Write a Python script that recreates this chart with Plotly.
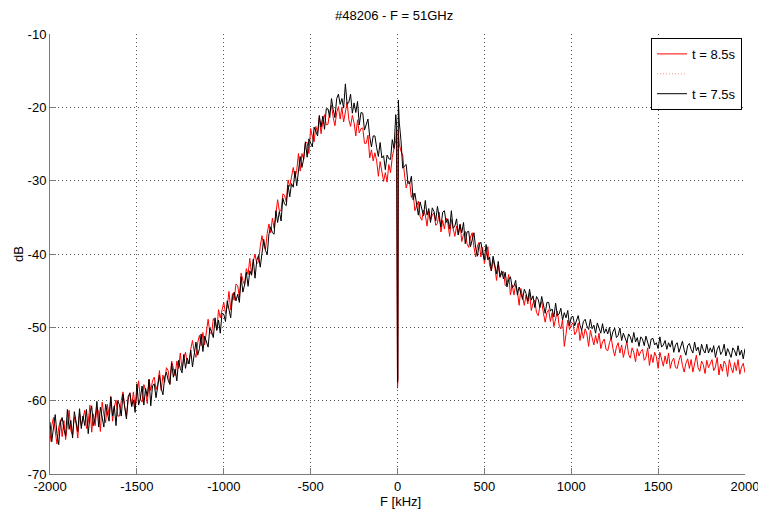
import plotly.graph_objects as go

# Frequency grid (kHz) – 10 kHz spacing, plus extra points inside the DC notch
F_GRID = list(range(-2000, 2001, 10))
NOTCH_F = [-5, -2, 2, 5]

# t = 8.5 s (red) spectrum in dB
RED_DB = [
    # -2000 ... -10
    -65.6, -63.4, -62.3, -64.5, -65.9, -63.7, -62.6, -64.9, -62.7, -65.3,
    -63.2, -61.3, -64.1, -64.7, -62.2, -63.1, -65.1, -61.7, -63.4, -62.2,
    -61.3, -63.8, -62.9, -60.6, -64.3, -61.8, -63.4, -60.9, -61.6, -64.2,
    -60.2, -61.9, -63.0, -60.5, -62.0, -59.4, -62.8, -60.9, -59.9, -62.1,
    -62.1, -60.0, -58.8, -60.8, -62.1, -59.9, -58.9, -60.8, -58.8, -61.0,
    -59.1, -57.3, -59.8, -60.2, -57.8, -58.6, -60.4, -57.1, -58.6, -57.3,
    -56.8, -58.5, -57.8, -55.9, -58.6, -56.5, -57.5, -55.5, -55.9, -57.7,
    -54.6, -55.8, -56.6, -54.6, -55.6, -53.5, -55.8, -54.2, -53.4, -54.9,
    -54.9, -53.0, -51.8, -53.3, -54.1, -52.1, -51.1, -52.5, -50.7, -52.4,
    -50.5, -48.9, -50.7, -50.9, -48.8, -49.2, -50.4, -47.6, -48.7, -47.5,
    -46.6, -48.1, -47.2, -45.1, -47.6, -45.4, -46.3, -44.1, -44.3, -45.9,
    -42.6, -43.6, -44.2, -42.0, -42.8, -40.6, -42.8, -41.0, -40.0, -41.3,
    -41.1, -39.0, -37.5, -38.8, -39.4, -37.2, -35.9, -37.1, -35.1, -36.5,
    -34.4, -32.6, -34.1, -34.1, -31.8, -32.0, -32.9, -29.9, -30.8, -29.3,
    -28.2, -29.6, -28.6, -26.3, -28.7, -26.3, -27.1, -24.8, -24.8, -26.3,
    -22.9, -24.0, -24.7, -22.6, -23.5, -21.3, -23.6, -21.9, -21.0, -22.4,
    -22.3, -20.6, -19.7, -21.4, -22.5, -20.7, -19.9, -21.6, -20.0, -22.0,
    -20.3, -19.3, -21.7, -22.6, -21.1, -22.1, -23.9, -21.7, -23.5, -22.9,
    -22.8, -24.9, -24.9, -23.8, -26.9, -25.8, -27.3, -26.2, -27.3, -29.4,
    -27.4, -28.9, -30.1, -28.9, -30.2, -27.8, -28.9, -26.8, -25.4, -24.5,
    # 0
    -58.3,
    # 10 ... 2000
    -25.0, -26.0, -26.5, -29.1, -31.0, -30.1, -30.2, -32.3, -31.7, -34.1,
    -33.4, -32.8, -34.9, -35.4, -34.0, -34.7, -36.2, -34.1, -35.4, -34.7,
    -34.4, -36.1, -35.8, -34.3, -37.0, -35.4, -36.6, -35.1, -35.8, -37.6,
    -35.3, -36.6, -37.6, -36.2, -37.4, -35.9, -38.3, -37.3, -36.9, -38.6,
    -39.1, -37.7, -37.1, -39.1, -40.4, -38.9, -38.4, -40.4, -39.1, -41.3,
    -40.0, -39.0, -41.5, -42.3, -40.8, -41.8, -43.6, -41.5, -43.2, -42.6,
    -42.4, -44.3, -44.1, -42.8, -45.6, -44.2, -45.6, -44.2, -45.1, -47.0,
    -44.7, -46.0, -47.0, -45.6, -46.8, -45.3, -47.7, -46.7, -46.3, -48.0,
    -48.4, -47.1, -46.5, -48.1, -49.3, -48.0, -47.6, -49.2, -48.0, -49.9,
    -48.7, -47.8, -49.7, -50.2, -48.9, -52.6, -50.9, -49.0, -50.3, -49.7,
    -49.4, -51.0, -50.6, -49.4, -51.8, -50.4, -51.5, -50.2, -50.9, -52.6,
    -50.4, -51.6, -52.4, -51.1, -52.2, -50.8, -52.9, -52.0, -51.6, -53.0,
    -53.2, -52.1, -51.4, -52.9, -53.9, -52.7, -52.1, -53.5, -52.4, -54.1,
    -52.9, -51.9, -53.7, -54.2, -52.8, -53.4, -54.7, -52.9, -53.9, -53.3,
    -53.0, -54.5, -54.1, -52.8, -55.2, -53.7, -54.8, -53.4, -54.0, -55.6,
    -53.4, -54.5, -55.3, -53.9, -55.0, -53.5, -55.6, -54.6, -54.2, -55.5,
    -55.6, -54.5, -53.8, -55.2, -56.1, -54.9, -54.3, -55.6, -54.4, -56.1,
    -54.9, -53.8, -55.5, -56.0, -54.6, -55.1, -56.3, -54.5, -55.5, -54.8,
    -54.4, -55.9, -55.4, -54.1, -56.5, -55.0, -56.0, -54.6, -55.1, -56.7,
    -54.4, -55.5, -56.2, -54.8, -55.9, -54.4, -56.4, -55.4, -54.9, -56.2,
]
RED_NOTCH_DB = [-23.0, -57.8, -57.5, -23.2]

# t = 7.5 s (black) spectrum in dB
BLACK_DB = [
    # -2000 ... -10
    -62.9, -65.6, -63.7, -61.9, -64.5, -66.0, -63.0, -62.3, -63.9, -64.8,
    -61.2, -63.9, -62.7, -65.1, -61.5, -63.1, -64.2, -61.1, -63.8, -62.1,
    -63.4, -61.2, -64.5, -62.0, -60.7, -63.4, -62.4, -60.1, -63.6, -60.9,
    -62.4, -63.6, -60.5, -61.5, -62.8, -59.5, -62.1, -60.7, -63.4, -60.0,
    -60.6, -62.1, -59.1, -60.9, -62.5, -59.4, -59.0, -60.8, -59.9, -61.6,
    -57.7, -60.6, -59.7, -58.0, -60.6, -58.3, -59.4, -57.1, -60.7, -58.0,
    -57.7, -59.6, -57.9, -56.5, -58.3, -59.2, -56.8, -56.1, -57.2, -57.8,
    -54.9, -56.8, -55.7, -57.3, -54.5, -55.6, -56.2, -53.7, -55.6, -54.2,
    -55.0, -53.1, -55.4, -53.3, -52.0, -53.8, -52.9, -50.9, -53.3, -51.2,
    -52.0, -52.7, -50.1, -50.6, -51.4, -48.7, -50.4, -49.0, -50.8, -48.1,
    -48.2, -49.2, -46.4, -47.8, -48.7, -45.9, -45.2, -46.4, -45.5, -46.6,
    -43.1, -45.2, -44.2, -42.5, -44.4, -42.3, -42.9, -40.7, -43.3, -40.9,
    -40.2, -41.8, -39.7, -38.0, -39.5, -40.1, -37.3, -36.3, -37.1, -37.3,
    -34.1, -35.7, -34.2, -35.5, -32.4, -33.2, -33.4, -30.6, -32.2, -30.4,
    -30.9, -28.7, -30.7, -28.3, -26.7, -28.2, -27.0, -24.7, -26.8, -24.3,
    -24.8, -25.4, -22.7, -23.2, -23.9, -21.1, -22.7, -21.2, -23.0, -20.2,
    -20.2, -21.4, -18.8, -20.3, -21.4, -18.8, -18.2, -19.6, -18.8, -20.1,
    -16.8, -19.6, -19.3, -18.2, -20.8, -19.4, -20.7, -19.2, -22.4, -20.7,
    -20.8, -23.1, -22.2, -21.6, -24.0, -25.4, -23.9, -23.9, -25.5, -26.7,
    -24.8, -26.9, -26.6, -28.5, -26.5, -27.0, -27.1, -24.4, -25.6, -21.0,
    # 0
    -57.5,
    # 10 ... 2000
    -22.0, -24.5, -28.3, -28.0, -27.8, -30.3, -30.4, -29.4, -32.6, -31.7,
    -33.2, -34.7, -32.9, -33.7, -34.8, -32.7, -34.7, -33.8, -35.7, -33.7,
    -34.2, -35.5, -33.5, -35.0, -36.3, -34.3, -34.1, -35.7, -35.2, -36.6,
    -34.1, -36.5, -36.2, -35.2, -37.4, -36.0, -37.1, -35.7, -38.6, -37.0,
    -36.9, -39.0, -37.9, -37.1, -39.2, -40.3, -38.7, -38.4, -39.8, -40.8,
    -38.7, -40.8, -40.4, -42.3, -40.3, -41.7, -42.7, -41.0, -43.1, -42.3,
    -43.4, -42.5, -44.5, -43.5, -43.1, -44.6, -44.4, -43.6, -45.6, -44.5,
    -45.3, -46.2, -44.8, -45.4, -46.4, -44.8, -46.3, -45.7, -47.3, -45.8,
    -46.2, -47.3, -45.8, -47.1, -48.1, -46.6, -46.6, -47.8, -47.5, -48.6,
    -46.7, -48.4, -48.2, -47.4, -49.0, -48.0, -48.7, -47.7, -49.8, -48.6,
    -48.5, -49.8, -49.0, -48.4, -49.7, -50.4, -49.2, -48.9, -49.8, -50.3,
    -48.9, -50.2, -49.7, -50.8, -49.4, -50.3, -50.8, -49.5, -50.8, -50.2,
    -50.9, -50.0, -51.6, -50.6, -50.1, -51.4, -51.1, -50.1, -51.8, -50.8,
    -51.4, -52.1, -50.9, -51.3, -52.1, -50.7, -52.0, -51.4, -52.6, -51.3,
    -51.6, -52.5, -51.2, -52.2, -52.9, -51.6, -51.5, -52.4, -52.1, -52.9,
    -51.3, -52.7, -52.4, -51.8, -53.0, -52.1, -52.7, -51.8, -53.4, -52.4,
    -52.1, -53.4, -52.6, -51.9, -53.1, -53.8, -52.5, -52.2, -53.0, -53.5,
    -52.0, -53.2, -52.7, -53.8, -52.3, -53.1, -53.5, -52.3, -53.5, -52.8,
    -53.4, -52.5, -54.1, -53.0, -52.5, -53.7, -53.3, -52.3, -53.9, -52.9,
    -53.5, -54.1, -52.8, -53.2, -53.9, -52.5, -53.8, -53.1, -54.3, -52.9,
]
BLACK_NOTCH_DB = [-22.5, -56.8, -57.0, -19.0]

X_TICKS = [-2000, -1500, -1000, -500, 0, 500, 1000, 1500, 2000]
X_TICK_TEXT = ["-2000", "-1500", "-1000", "-500", "0", "500", "1000", "1500", "2000"]
Y_TICKS = [-70, -60, -50, -40, -30, -20, -10]
Y_TICK_TEXT = ["-70", "-60", "-50", "-40", "-30", "-20", "-10"]

assert len(RED_DB) == len(F_GRID) and len(BLACK_DB) == len(F_GRID)


def merged(vals, notch_vals):
    pts = sorted(zip(F_GRID + NOTCH_F, vals + notch_vals))
    return [p[0] for p in pts], [p[1] for p in pts]


rx, ry = merged(RED_DB, RED_NOTCH_DB)
bx, by = merged(BLACK_DB, BLACK_NOTCH_DB)

FONT = "Liberation Sans, Arial, Helvetica, sans-serif"
TXT = dict(family=FONT, size=13, color="#000")

fig = go.Figure()
fig.add_trace(go.Scatter(x=rx, y=ry, mode="lines", name="t = 8.5s",
                         line=dict(color="#ff0000", width=1)))
fig.add_trace(go.Scatter(x=[None], y=[None], mode="lines", name=" ",
                         line=dict(color="#ff9090", width=1, dash="1px,2px")))
fig.add_trace(go.Scatter(x=bx, y=by, mode="lines", name="t = 7.5s",
                         line=dict(color="#000000", width=1)))

axis_common = dict(
    showline=True, linecolor="#7a7a7a", linewidth=1, mirror=False,
    showgrid=True, gridcolor="#555555", gridwidth=1, griddash="1px,3px",
    ticks="inside", ticklen=6, tickcolor="#7a7a7a", zeroline=False,
    tickfont=TXT, ticklabeloverflow="allow", automargin=False,
)

fig.update_layout(
    width=758, height=510,
    margin=dict(l=50, r=13, t=34, b=36),
    paper_bgcolor="white", plot_bgcolor="white",
    title=dict(text="#48206 - F = 51GHz", x=0.52, xanchor="center",
               y=0.970, yanchor="middle", font=TXT),
    xaxis=dict(range=[-2000, 2000], tickvals=X_TICKS, ticktext=X_TICK_TEXT,
               **axis_common),
    yaxis=dict(range=[-70, -10], tickvals=Y_TICKS, ticktext=Y_TICK_TEXT,
               **axis_common),
    legend=dict(x=0.9957, xanchor="right", y=0.991, yanchor="top",
                bgcolor="white", bordercolor="#000", borderwidth=1,
                font=TXT, tracegroupgap=0, itemwidth=30),
    showlegend=True,
    annotations=[
        dict(text="F [kHz]", xref="paper", yref="paper", x=0.505, y=-0.063,
             xanchor="center", yanchor="middle", showarrow=False, font=TXT),
        dict(text="dB", xref="paper", yref="paper", x=-0.046, y=0.5,
             xanchor="center", yanchor="middle", textangle=-90,
             showarrow=False, font=TXT),
    ],
)

fig.write_html("out.html")
